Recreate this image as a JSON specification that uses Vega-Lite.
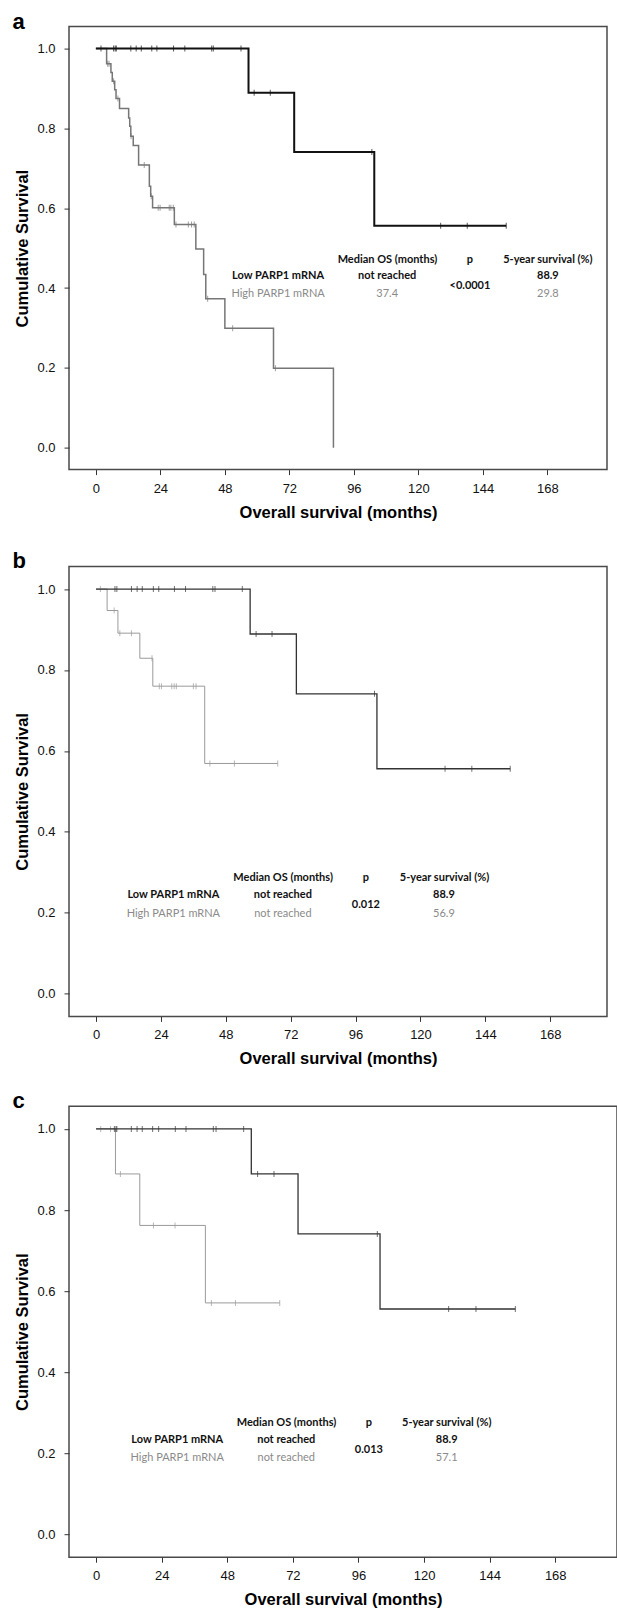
{
"$schema": "https://vega.github.io/schema/vega-lite/v6.json",
"background": "white",
"padding": {"left": 11, "top": 9.6, "right": 0, "bottom": 0},
"columns": 1,
"align": "all",
"bounds": "flush",
"spacing": 88.8,
"datasets": {
"curves": [
{"p":"a","g":"Low","t":0,"s":1},{"p":"a","g":"Low","t":56.8,"s":0.889},{"p":"a","g":"Low","t":73.8,"s":0.741},{"p":"a","g":"Low","t":103.6,"s":0.556},{"p":"a","g":"Low","t":152.7,"s":0.556},
{"p":"a","g":"High","t":0,"s":1},{"p":"a","g":"High","t":4.0,"s":0.962},{"p":"a","g":"High","t":5.6,"s":0.94},{"p":"a","g":"High","t":6.1,"s":0.918},{"p":"a","g":"High","t":7.0,"s":0.897},{"p":"a","g":"High","t":7.5,"s":0.875},{"p":"a","g":"High","t":8.8,"s":0.85},{"p":"a","g":"High","t":12.2,"s":0.826},{"p":"a","g":"High","t":12.6,"s":0.805},{"p":"a","g":"High","t":13.0,"s":0.78},{"p":"a","g":"High","t":13.9,"s":0.757},{"p":"a","g":"High","t":15.9,"s":0.708},{"p":"a","g":"High","t":19.9,"s":0.655},{"p":"a","g":"High","t":20.4,"s":0.63},{"p":"a","g":"High","t":21.1,"s":0.601},{"p":"a","g":"High","t":29.2,"s":0.559},{"p":"a","g":"High","t":37.2,"s":0.498},{"p":"a","g":"High","t":40.1,"s":0.434},{"p":"a","g":"High","t":40.9,"s":0.373},{"p":"a","g":"High","t":48.0,"s":0.299},{"p":"a","g":"High","t":66.1,"s":0.199},{"p":"a","g":"High","t":88.4,"s":0},
{"p":"b","g":"Low","t":0,"s":1},{"p":"b","g":"Low","t":57.0,"s":0.889},{"p":"b","g":"Low","t":74.1,"s":0.741},{"p":"b","g":"Low","t":103.9,"s":0.556},{"p":"b","g":"Low","t":153.2,"s":0.556},
{"p":"b","g":"High","t":0,"s":1},{"p":"b","g":"High","t":4.1,"s":0.947},{"p":"b","g":"High","t":8.1,"s":0.891},{"p":"b","g":"High","t":16.2,"s":0.829},{"p":"b","g":"High","t":21.0,"s":0.76},{"p":"b","g":"High","t":40.2,"s":0.569},{"p":"b","g":"High","t":67.2,"s":0.569},
{"p":"c","g":"Low","t":0,"s":1},{"p":"c","g":"Low","t":56.8,"s":0.889},{"p":"c","g":"Low","t":73.9,"s":0.741},{"p":"c","g":"Low","t":103.9,"s":0.556},{"p":"c","g":"Low","t":153.4,"s":0.556},
{"p":"c","g":"High","t":0,"s":1},{"p":"c","g":"High","t":7.1,"s":0.889},{"p":"c","g":"High","t":16.0,"s":0.762},{"p":"c","g":"High","t":40.0,"s":0.571},{"p":"c","g":"High","t":67.2,"s":0.571}
],
"censors": [
{"p":"a","g":"Low","t":1.9,"s":1},{"p":"a","g":"Low","t":6.6,"s":1},{"p":"a","g":"Low","t":7.2,"s":1},{"p":"a","g":"Low","t":7.6,"s":1},{"p":"a","g":"Low","t":13.0,"s":1},{"p":"a","g":"Low","t":15.0,"s":1},{"p":"a","g":"Low","t":16.9,"s":1},{"p":"a","g":"Low","t":20.8,"s":1},{"p":"a","g":"Low","t":22.7,"s":1},{"p":"a","g":"Low","t":28.9,"s":1},{"p":"a","g":"Low","t":33.1,"s":1},{"p":"a","g":"Low","t":43.1,"s":1},{"p":"a","g":"Low","t":43.7,"s":1},{"p":"a","g":"Low","t":54.0,"s":1},{"p":"a","g":"Low","t":58.9,"s":0.889},{"p":"a","g":"Low","t":64.9,"s":0.889},{"p":"a","g":"Low","t":102.7,"s":0.741},{"p":"a","g":"Low","t":128.3,"s":0.556},{"p":"a","g":"Low","t":138.2,"s":0.556},{"p":"a","g":"Low","t":152.7,"s":0.556},
{"p":"a","g":"High","t":4.4,"s":0.962},{"p":"a","g":"High","t":4.9,"s":0.962},{"p":"a","g":"High","t":6.6,"s":0.918},{"p":"a","g":"High","t":8.2,"s":0.875},{"p":"a","g":"High","t":13.1,"s":0.78},{"p":"a","g":"High","t":18.0,"s":0.708},{"p":"a","g":"High","t":20.6,"s":0.63},{"p":"a","g":"High","t":23.2,"s":0.601},{"p":"a","g":"High","t":23.9,"s":0.601},{"p":"a","g":"High","t":27.3,"s":0.601},{"p":"a","g":"High","t":27.9,"s":0.601},{"p":"a","g":"High","t":28.8,"s":0.601},{"p":"a","g":"High","t":29.8,"s":0.559},{"p":"a","g":"High","t":34.4,"s":0.559},{"p":"a","g":"High","t":35.6,"s":0.559},{"p":"a","g":"High","t":36.6,"s":0.559},{"p":"a","g":"High","t":41.6,"s":0.373},{"p":"a","g":"High","t":50.9,"s":0.299},{"p":"a","g":"High","t":66.8,"s":0.199},
{"p":"b","g":"Low","t":7.0,"s":1},{"p":"b","g":"Low","t":7.7,"s":1},{"p":"b","g":"Low","t":13.1,"s":1},{"p":"b","g":"Low","t":15.2,"s":1},{"p":"b","g":"Low","t":17.1,"s":1},{"p":"b","g":"Low","t":21.2,"s":1},{"p":"b","g":"Low","t":23.2,"s":1},{"p":"b","g":"Low","t":29.0,"s":1},{"p":"b","g":"Low","t":33.1,"s":1},{"p":"b","g":"Low","t":43.2,"s":1},{"p":"b","g":"Low","t":44.0,"s":1},{"p":"b","g":"Low","t":54.1,"s":1},{"p":"b","g":"Low","t":59.2,"s":0.889},{"p":"b","g":"Low","t":65.1,"s":0.889},{"p":"b","g":"Low","t":103.0,"s":0.741},{"p":"b","g":"Low","t":129.1,"s":0.556},{"p":"b","g":"Low","t":139.0,"s":0.556},{"p":"b","g":"Low","t":153.2,"s":0.556},
{"p":"b","g":"High","t":1.6,"s":1},{"p":"b","g":"High","t":6.7,"s":0.947},{"p":"b","g":"High","t":8.8,"s":0.891},{"p":"b","g":"High","t":13.1,"s":0.891},{"p":"b","g":"High","t":20.7,"s":0.829},{"p":"b","g":"High","t":23.4,"s":0.76},{"p":"b","g":"High","t":24.2,"s":0.76},{"p":"b","g":"High","t":28.0,"s":0.76},{"p":"b","g":"High","t":28.9,"s":0.76},{"p":"b","g":"High","t":29.7,"s":0.76},{"p":"b","g":"High","t":36.0,"s":0.76},{"p":"b","g":"High","t":37.0,"s":0.76},{"p":"b","g":"High","t":42.1,"s":0.569},{"p":"b","g":"High","t":51.2,"s":0.569},{"p":"b","g":"High","t":67.2,"s":0.569},
{"p":"c","g":"Low","t":6.7,"s":1},{"p":"c","g":"Low","t":7.3,"s":1},{"p":"c","g":"Low","t":7.6,"s":1},{"p":"c","g":"Low","t":12.9,"s":1},{"p":"c","g":"Low","t":15.0,"s":1},{"p":"c","g":"Low","t":16.9,"s":1},{"p":"c","g":"Low","t":20.7,"s":1},{"p":"c","g":"Low","t":22.9,"s":1},{"p":"c","g":"Low","t":29.0,"s":1},{"p":"c","g":"Low","t":32.9,"s":1},{"p":"c","g":"Low","t":42.9,"s":1},{"p":"c","g":"Low","t":43.9,"s":1},{"p":"c","g":"Low","t":54.0,"s":1},{"p":"c","g":"Low","t":59.1,"s":0.889},{"p":"c","g":"Low","t":65.1,"s":0.889},{"p":"c","g":"Low","t":102.9,"s":0.741},{"p":"c","g":"Low","t":129.0,"s":0.556},{"p":"c","g":"Low","t":139.0,"s":0.556},{"p":"c","g":"Low","t":153.4,"s":0.556},
{"p":"c","g":"High","t":1.7,"s":1},{"p":"c","g":"High","t":5.3,"s":1},{"p":"c","g":"High","t":8.9,"s":0.889},{"p":"c","g":"High","t":21.0,"s":0.762},{"p":"c","g":"High","t":28.9,"s":0.762},{"p":"c","g":"High","t":42.2,"s":0.571},{"p":"c","g":"High","t":51.0,"s":0.571},{"p":"c","g":"High","t":67.2,"s":0.571}
],
"texts": [
{"p":"a","r":"head","label":"Median OS (months)","t":108.5,"s":0.471},{"p":"a","r":"head","label":"p","t":139.2,"s":0.471},{"p":"a","r":"head","label":"5-year survival (%)","t":168.2,"s":0.471},
{"p":"a","r":"low","label":"Low PARP1 mRNA","t":67.8,"s":0.43},{"p":"a","r":"low","label":"not reached","t":108.4,"s":0.43},{"p":"a","r":"low","label":"88.9","t":168.2,"s":0.43},
{"p":"a","r":"high","label":"High PARP1 mRNA","t":67.8,"s":0.384},{"p":"a","r":"high","label":"37.4","t":108.4,"s":0.384},{"p":"a","r":"high","label":"29.8","t":168.2,"s":0.384},
{"p":"a","r":"p","label":"<0.0001","t":139.2,"s":0.406},
{"p":"b","r":"head","label":"Median OS (months)","t":69.2,"s":0.287},{"p":"b","r":"head","label":"p","t":99.8,"s":0.287},{"p":"b","r":"head","label":"5-year survival (%)","t":128.9,"s":0.287},
{"p":"b","r":"low","label":"Low PARP1 mRNA","t":28.6,"s":0.243},{"p":"b","r":"low","label":"not reached","t":69.1,"s":0.243},{"p":"b","r":"low","label":"88.9","t":128.7,"s":0.243},
{"p":"b","r":"high","label":"High PARP1 mRNA","t":28.6,"s":0.198},{"p":"b","r":"high","label":"not reached","t":69.1,"s":0.198},{"p":"b","r":"high","label":"56.9","t":128.7,"s":0.198},
{"p":"b","r":"p","label":"0.012","t":99.8,"s":0.2205},
{"p":"c","r":"head","label":"Median OS (months)","t":69.7,"s":0.274},{"p":"c","r":"head","label":"p","t":99.8,"s":0.274},{"p":"c","r":"head","label":"5-year survival (%)","t":128.3,"s":0.274},
{"p":"c","r":"low","label":"Low PARP1 mRNA","t":29.7,"s":0.233},{"p":"c","r":"low","label":"not reached","t":69.6,"s":0.233},{"p":"c","r":"low","label":"88.9","t":128.3,"s":0.233},
{"p":"c","r":"high","label":"High PARP1 mRNA","t":29.7,"s":0.188},{"p":"c","r":"high","label":"not reached","t":69.6,"s":0.188},{"p":"c","r":"high","label":"57.1","t":128.3,"s":0.188},
{"p":"c","r":"p","label":"0.013","t":99.8,"s":0.209}
]
},
"concat": [
{
"width": 538, "height": 443,
"title": {"text": "a", "anchor": "start", "frame": "group", "offset": 0, "baseline": "alphabetic", "dx": -56.5, "dy": 24, "fontSize": 22, "font": "Liberation Sans", "fontWeight": "bold", "color": "#000000"},
"encoding": {
"x": {"field": "t", "type": "quantitative", "scale": {"domain": [-10, 190.2], "nice": false, "zero": false}, "axis": {"values": [0,24,48,72,96,120,144,168], "title": "Overall survival (months)"}},
"y": {"field": "s", "type": "quantitative", "scale": {"domain": [-0.055, 1.055], "nice": false, "zero": false}, "axis": {"values": [0,0.2,0.4,0.6,0.8,1], "format": ".1f", "title": "Cumulative Survival"}}
},
"layer": [
{"data": {"name": "curves"}, "transform": [{"filter": "datum.p === 'a' && datum.g === 'High'"}], "mark": {"type": "line", "interpolate": "step-after", "color": "#767676", "strokeWidth": 1.5}},
{"data": {"name": "censors"}, "transform": [{"filter": "datum.p === 'a' && datum.g === 'High'"}], "mark": {"type": "tick", "orient": "vertical", "size": 6, "thickness": 1, "color": "#767676"}},
{"data": {"name": "curves"}, "transform": [{"filter": "datum.p === 'a' && datum.g === 'Low'"}], "mark": {"type": "line", "interpolate": "step-after", "color": "#111111", "strokeWidth": 2}},
{"data": {"name": "censors"}, "transform": [{"filter": "datum.p === 'a' && datum.g === 'Low'"}], "mark": {"type": "tick", "orient": "vertical", "size": 6, "thickness": 1, "color": "#111111"}},
{"data": {"name": "texts"}, "transform": [{"filter": "datum.p === 'a' && datum.r !== 'high'"}], "mark": {"type": "text", "font": "Lato", "fontSize": 11, "fontWeight": "bold", "color": "#111111"}, "encoding": {"text": {"field": "label"}}},
{"data": {"name": "texts"}, "transform": [{"filter": "datum.p === 'a' && datum.r === 'high'"}], "mark": {"type": "text", "font": "Lato", "fontSize": 11, "color": "#8a8a8a"}, "encoding": {"text": {"field": "label"}}}
]
},
{
"width": 538, "height": 450,
"title": {"text": "b", "anchor": "start", "frame": "group", "offset": 0, "baseline": "alphabetic", "dx": -56.5, "dy": 24, "fontSize": 22, "font": "Liberation Sans", "fontWeight": "bold", "color": "#000000"},
"encoding": {
"x": {"field": "t", "type": "quantitative", "scale": {"domain": [-10, 189], "nice": false, "zero": false}, "axis": {"values": [0,24,48,72,96,120,144,168], "title": "Overall survival (months)"}},
"y": {"field": "s", "type": "quantitative", "scale": {"domain": [-0.056, 1.056], "nice": false, "zero": false}, "axis": {"values": [0,0.2,0.4,0.6,0.8,1], "format": ".1f", "title": "Cumulative Survival"}}
},
"layer": [
{"data": {"name": "curves"}, "transform": [{"filter": "datum.p === 'b' && datum.g === 'High'"}], "mark": {"type": "line", "interpolate": "step-after", "color": "#9a9a9a", "strokeWidth": 1}},
{"data": {"name": "censors"}, "transform": [{"filter": "datum.p === 'b' && datum.g === 'High'"}], "mark": {"type": "tick", "orient": "vertical", "size": 6, "thickness": 1, "color": "#9a9a9a"}},
{"data": {"name": "curves"}, "transform": [{"filter": "datum.p === 'b' && datum.g === 'Low'"}], "mark": {"type": "line", "interpolate": "step-after", "color": "#333333", "strokeWidth": 1.3}},
{"data": {"name": "censors"}, "transform": [{"filter": "datum.p === 'b' && datum.g === 'Low'"}], "mark": {"type": "tick", "orient": "vertical", "size": 6, "thickness": 1, "color": "#333333"}},
{"data": {"name": "texts"}, "transform": [{"filter": "datum.p === 'b' && datum.r !== 'high'"}], "mark": {"type": "text", "font": "Lato", "fontSize": 11, "fontWeight": "bold", "color": "#111111"}, "encoding": {"text": {"field": "label"}}},
{"data": {"name": "texts"}, "transform": [{"filter": "datum.p === 'b' && datum.r === 'high'"}], "mark": {"type": "text", "font": "Lato", "fontSize": 11, "color": "#8a8a8a"}, "encoding": {"text": {"field": "label"}}}
]
},
{
"width": 548, "height": 451,
"title": {"text": "c", "anchor": "start", "frame": "group", "offset": 0, "baseline": "alphabetic", "dx": -56.5, "dy": 24, "fontSize": 22, "font": "Liberation Sans", "fontWeight": "bold", "color": "#000000"},
"encoding": {
"x": {"field": "t", "type": "quantitative", "scale": {"domain": [-9.9, 190.6], "nice": false, "zero": false}, "axis": {"values": [0,24,48,72,96,120,144,168], "title": "Overall survival (months)"}},
"y": {"field": "s", "type": "quantitative", "scale": {"domain": [-0.056, 1.056], "nice": false, "zero": false}, "axis": {"values": [0,0.2,0.4,0.6,0.8,1], "format": ".1f", "title": "Cumulative Survival"}}
},
"layer": [
{"data": {"name": "curves"}, "transform": [{"filter": "datum.p === 'c' && datum.g === 'High'"}], "mark": {"type": "line", "interpolate": "step-after", "color": "#9a9a9a", "strokeWidth": 1}},
{"data": {"name": "censors"}, "transform": [{"filter": "datum.p === 'c' && datum.g === 'High'"}], "mark": {"type": "tick", "orient": "vertical", "size": 6, "thickness": 1, "color": "#9a9a9a"}},
{"data": {"name": "curves"}, "transform": [{"filter": "datum.p === 'c' && datum.g === 'Low'"}], "mark": {"type": "line", "interpolate": "step-after", "color": "#333333", "strokeWidth": 1.3}},
{"data": {"name": "censors"}, "transform": [{"filter": "datum.p === 'c' && datum.g === 'Low'"}], "mark": {"type": "tick", "orient": "vertical", "size": 6, "thickness": 1, "color": "#333333"}},
{"data": {"name": "texts"}, "transform": [{"filter": "datum.p === 'c' && datum.r !== 'high'"}], "mark": {"type": "text", "font": "Lato", "fontSize": 11, "fontWeight": "bold", "color": "#111111"}, "encoding": {"text": {"field": "label"}}},
{"data": {"name": "texts"}, "transform": [{"filter": "datum.p === 'c' && datum.r === 'high'"}], "mark": {"type": "text", "font": "Lato", "fontSize": 11, "color": "#8a8a8a"}, "encoding": {"text": {"field": "label"}}}
]
}
],
"config": {
"view": {"stroke": "#4a4a4a", "strokeWidth": 1.5},
"axis": {"domain": false, "grid": false, "ticks": true, "tickSize": 5, "tickColor": "#333333", "tickWidth": 1, "labelFont": "Liberation Sans", "labelFontSize": 13, "labelColor": "#111111", "labelFlush": false, "titleFont": "Liberation Sans", "titleFontSize": 16.5, "titleFontWeight": "bold", "titleColor": "#000000"},
"axisX": {"labelPadding": 7.5, "titlePadding": 9},
"axisY": {"labelPadding": 9, "titlePadding": 6}
}
}
